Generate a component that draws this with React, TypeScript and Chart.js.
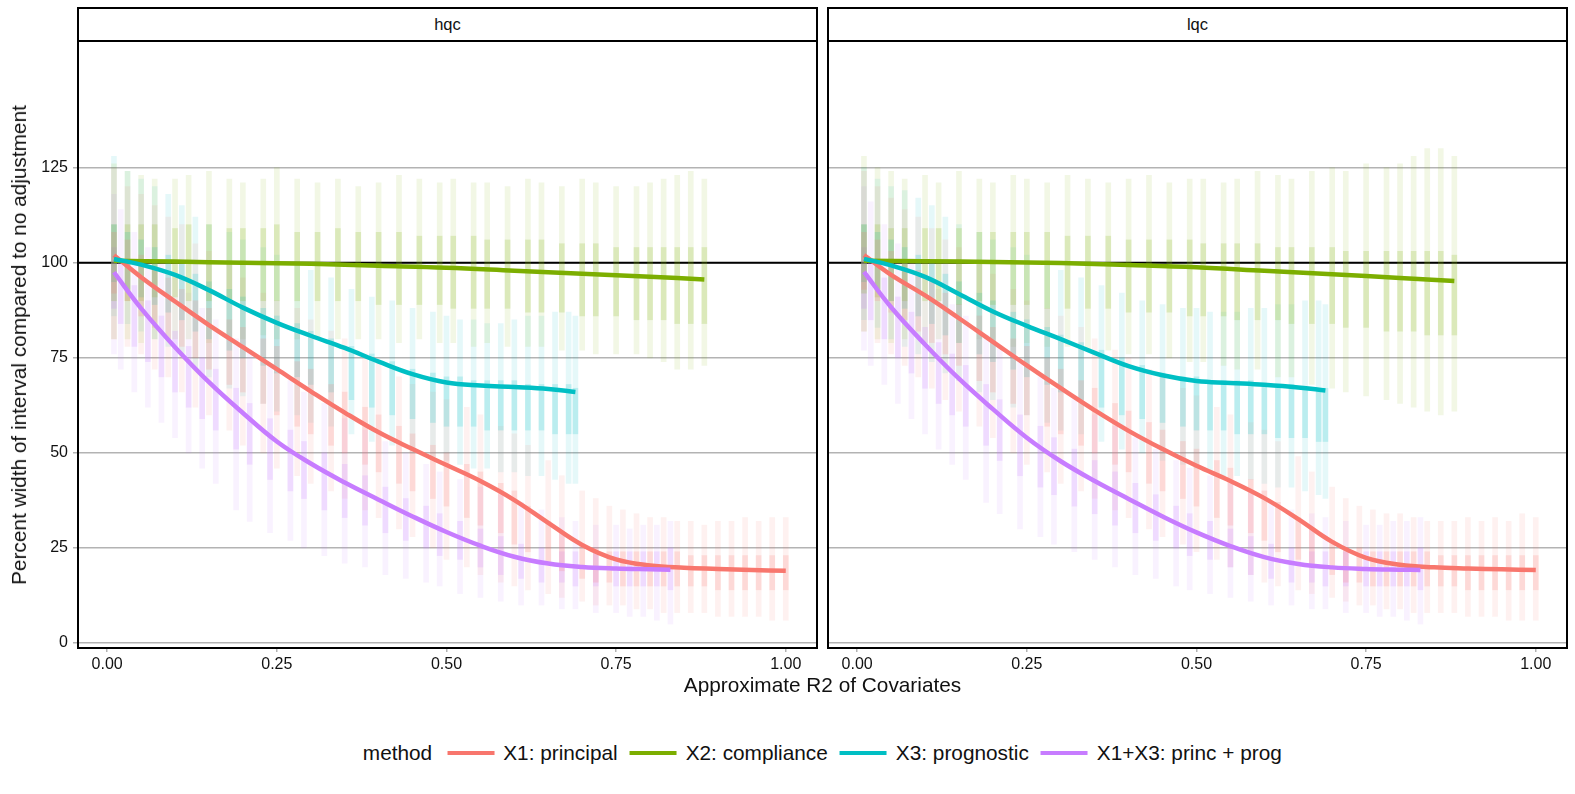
import React, { useEffect, useRef } from "react";
import { Chart, registerables } from "chart.js";

Chart.register(...registerables);

const FONT = "'Liberation Sans', Arial, Helvetica, sans-serif";

// ---------- labels ----------
const PANELS = ["hqc", "lqc"];
const METHODS = ["X1: principal", "X2: compliance", "X3: prognostic", "X1+X3: princ + prog"];
const COLORS = ["#F8766D", "#7CAE00", "#00BFC4", "#C77CFF"];
const LEGEND_TITLE = "method";
const X_TITLE = "Approximate R2 of Covariates";
const Y_TITLE = "Percent width of interval compared to no adjustment";
const Y_TICKS = [0, 25, 50, 75, 100, 125];
const X_TICKS = [0, 0.25, 0.5, 0.75, 1];
const REF_LINE = 100;
const X_RANGE = [-0.043, 1.046];
const Y_RANGE = [-1.3, 158.3];

// ---------- smoothed lines (x, y) ----------
const HQC_X1_SX = [0.01, 0.05, 0.1, 0.15, 0.2, 0.25, 0.3, 0.35, 0.4, 0.45, 0.5, 0.55, 0.6, 0.65, 0.7, 0.75, 0.8, 0.85, 0.9, 0.95, 1.0];
const HQC_X1_SY = [102, 96.2, 89.8, 83.6, 77.8, 72, 66.2, 60.6, 55.4, 51, 46.8, 42.6, 37.6, 31.6, 25.8, 22, 20.4, 19.8, 19.5, 19.2, 19];
const HQC_X2_SX = [0.01, 0.1, 0.2, 0.3, 0.4, 0.5, 0.6, 0.7, 0.8, 0.88];
const HQC_X2_SY = [100.5, 100.3, 100, 99.7, 99.2, 98.7, 97.9, 97.1, 96.3, 95.6];
const HQC_X3_SX = [0.01, 0.05, 0.1, 0.15, 0.2, 0.25, 0.3, 0.35, 0.4, 0.45, 0.5, 0.55, 0.6, 0.65, 0.69];
const HQC_X3_SY = [101, 99.5, 96.8, 92.8, 88.2, 84.2, 80.8, 77.6, 74, 70.7, 68.5, 67.7, 67.3, 66.8, 66];
const HQC_X13_SX = [0.01, 0.05, 0.1, 0.15, 0.2, 0.25, 0.3, 0.35, 0.4, 0.45, 0.5, 0.55, 0.6, 0.65, 0.7, 0.75, 0.8, 0.83];
const HQC_X13_SY = [97.5, 88, 77.8, 68.6, 60.5, 53, 47.2, 42.2, 37.7, 33.3, 29.2, 25.6, 22.7, 20.9, 20, 19.6, 19.4, 19.3];

const LQC_X1_SX = [0.01, 0.05, 0.1, 0.15, 0.2, 0.25, 0.3, 0.35, 0.4, 0.45, 0.5, 0.55, 0.6, 0.65, 0.7, 0.75, 0.8, 0.85, 0.9, 0.95, 1.0];
const LQC_X1_SY = [102, 96.8, 91.4, 85.4, 79.2, 73, 67, 61.2, 55.8, 51, 46.6, 42.6, 38.1, 32.6, 26.6, 22.4, 20.6, 19.9, 19.6, 19.4, 19.2];
const LQC_X2_SX = [0.01, 0.1, 0.2, 0.3, 0.4, 0.5, 0.6, 0.7, 0.8, 0.88];
const LQC_X2_SY = [100.5, 100.4, 100.2, 99.9, 99.4, 98.8, 97.9, 97, 96, 95.2];
const LQC_X3_SX = [0.01, 0.05, 0.1, 0.15, 0.2, 0.25, 0.3, 0.35, 0.4, 0.45, 0.5, 0.55, 0.6, 0.65, 0.69];
const LQC_X3_SY = [101, 99.3, 96.3, 91.8, 87.2, 83.4, 79.9, 76.3, 72.8, 70.4, 68.9, 68.4, 67.9, 67.2, 66.4];
const LQC_X13_SX = [0.01, 0.05, 0.1, 0.15, 0.2, 0.25, 0.3, 0.35, 0.4, 0.45, 0.5, 0.55, 0.6, 0.65, 0.7, 0.75, 0.8, 0.83];
const LQC_X13_SY = [97.6, 88.3, 78.5, 69.5, 61.5, 54, 47.8, 42.6, 37.9, 33.3, 29.1, 25.5, 22.6, 20.8, 19.9, 19.5, 19.3, 19.2];

// ---------- point columns: [x, low, core low, core high, high] ----------
const HQC_X1_COLS = [
  [0.01, 80, 92, 108, 125], [0.03, 78, 90, 106, 120], [0.05, 76, 86, 102, 118], [0.07, 72, 83, 99, 115],
  [0.09, 70, 80, 96, 112], [0.11, 66, 78, 93, 110], [0.13, 62, 75, 90, 105], [0.15, 60, 72, 88, 103],
  [0.18, 56, 68, 85, 100], [0.2, 52, 66, 83, 96], [0.23, 50, 63, 80, 92], [0.25, 46, 60, 78, 90],
  [0.28, 44, 57, 74, 88], [0.3, 42, 55, 72, 85], [0.33, 40, 52, 68, 82], [0.35, 38, 50, 66, 80],
  [0.38, 35, 47, 62, 76], [0.4, 33, 45, 60, 74], [0.43, 30, 42, 57, 70], [0.45, 28, 40, 55, 68],
  [0.48, 25, 38, 52, 66], [0.5, 22, 36, 50, 64], [0.53, 20, 33, 47, 62], [0.55, 18, 31, 45, 60],
  [0.58, 16, 29, 42, 57], [0.6, 15, 26, 40, 55], [0.62, 14, 24, 36, 52], [0.65, 13, 21, 32, 48],
  [0.67, 12, 19, 29, 44], [0.7, 11, 17, 26, 40], [0.72, 10, 16, 25, 38], [0.74, 10, 16, 24, 36],
  [0.76, 10, 15, 24, 35], [0.78, 9, 15, 24, 34], [0.8, 9, 15, 24, 33], [0.82, 8, 15, 24, 33],
  [0.84, 8, 15, 24, 32], [0.86, 8, 15, 23, 32], [0.88, 8, 15, 23, 31], [0.9, 7, 14, 23, 32],
  [0.92, 7, 14, 23, 32], [0.94, 7, 14, 23, 33], [0.96, 7, 14, 23, 32], [0.98, 6, 14, 23, 33],
  [1.0, 6, 14, 23, 33],
];
const HQC_X2_COLS = [
  [0.01, 80, 90, 110, 126], [0.03, 80, 90, 110, 124], [0.05, 79, 90, 110, 123], [0.07, 80, 91, 110, 122],
  [0.1, 80, 91, 109, 122], [0.12, 80, 90, 110, 123], [0.15, 79, 90, 110, 124], [0.18, 80, 90, 109, 122],
  [0.2, 80, 90, 109, 121], [0.23, 81, 90, 109, 122], [0.25, 80, 90, 110, 125], [0.28, 80, 90, 108, 122],
  [0.31, 80, 90, 108, 121], [0.34, 80, 90, 109, 122], [0.37, 80, 90, 108, 120], [0.4, 80, 89, 108, 121],
  [0.43, 79, 89, 108, 123], [0.46, 80, 89, 107, 122], [0.49, 79, 89, 107, 121], [0.51, 79, 88, 107, 122],
  [0.54, 78, 88, 107, 121], [0.56, 79, 88, 106, 121], [0.59, 78, 88, 106, 120], [0.62, 78, 87, 106, 122],
  [0.64, 78, 87, 106, 121], [0.67, 77, 87, 105, 120], [0.7, 77, 86, 105, 122], [0.72, 76, 86, 105, 121],
  [0.75, 76, 86, 104, 120], [0.78, 76, 85, 104, 120], [0.8, 75, 85, 104, 121], [0.82, 74, 85, 104, 122],
  [0.84, 72, 84, 104, 123], [0.86, 72, 84, 104, 124], [0.88, 73, 84, 104, 122],
];
const HQC_X3_COLS = [
  [0.01, 86, 95, 110, 128], [0.03, 84, 93, 108, 124], [0.05, 82, 91, 106, 122], [0.07, 80, 89, 104, 120],
  [0.09, 78, 87, 102, 118], [0.11, 76, 85, 100, 115], [0.13, 72, 82, 97, 112], [0.15, 70, 80, 95, 110],
  [0.18, 67, 77, 93, 108], [0.2, 65, 75, 91, 106], [0.23, 63, 73, 88, 104], [0.25, 61, 71, 86, 102],
  [0.28, 60, 70, 84, 100], [0.3, 58, 68, 82, 98], [0.33, 57, 66, 80, 96], [0.36, 55, 64, 78, 93],
  [0.39, 53, 62, 76, 91], [0.42, 52, 60, 74, 90], [0.45, 50, 59, 72, 88], [0.48, 49, 58, 71, 87],
  [0.5, 48, 57, 70, 86], [0.52, 47, 57, 70, 85], [0.54, 46, 57, 69, 85], [0.56, 46, 56, 69, 84],
  [0.58, 45, 56, 69, 84], [0.6, 45, 56, 69, 85], [0.62, 44, 56, 68, 86], [0.64, 44, 56, 68, 86],
  [0.66, 43, 55, 68, 87], [0.68, 42, 55, 68, 87], [0.69, 42, 55, 67, 86],
];
const HQC_X13_COLS = [
  [0.01, 76, 88, 104, 118], [0.02, 72, 84, 100, 114], [0.04, 66, 78, 94, 108], [0.06, 62, 74, 90, 104],
  [0.08, 58, 70, 86, 100], [0.1, 54, 66, 82, 96], [0.12, 50, 62, 78, 92], [0.14, 46, 59, 75, 88],
  [0.16, 42, 56, 72, 85], [0.19, 35, 51, 67, 80], [0.21, 32, 47, 63, 77], [0.24, 29, 43, 59, 73],
  [0.27, 27, 40, 56, 69], [0.29, 25, 38, 53, 66], [0.32, 23, 35, 50, 63], [0.35, 21, 33, 47, 59],
  [0.38, 20, 31, 44, 56], [0.41, 18, 29, 41, 53], [0.44, 17, 27, 38, 50], [0.47, 16, 25, 36, 47],
  [0.49, 15, 23, 34, 45], [0.52, 13, 22, 32, 43], [0.55, 12, 20, 30, 41], [0.58, 11, 18, 28, 39],
  [0.61, 10, 17, 26, 37], [0.64, 10, 16, 25, 35], [0.67, 9, 16, 24, 33], [0.69, 9, 15, 24, 32],
  [0.72, 8, 15, 24, 31], [0.75, 8, 15, 24, 31], [0.77, 7, 15, 24, 30], [0.79, 7, 15, 24, 31],
  [0.81, 6, 15, 24, 31], [0.83, 5, 14, 25, 32],
];

const LQC_X1_COLS = [
  [0.01, 82, 93, 108, 124], [0.03, 79, 90, 106, 120], [0.05, 76, 87, 103, 117], [0.07, 73, 85, 100, 114],
  [0.09, 70, 82, 98, 112], [0.11, 67, 79, 95, 109], [0.13, 64, 76, 92, 106], [0.15, 61, 73, 89, 104],
  [0.18, 57, 69, 86, 100], [0.2, 54, 66, 83, 97], [0.23, 50, 63, 80, 93], [0.25, 47, 60, 78, 90],
  [0.28, 45, 57, 75, 88], [0.3, 42, 55, 72, 86], [0.33, 40, 52, 69, 83], [0.35, 38, 50, 67, 80],
  [0.38, 35, 47, 63, 77], [0.4, 33, 45, 61, 75], [0.43, 30, 42, 58, 72], [0.45, 28, 40, 56, 70],
  [0.48, 26, 38, 53, 67], [0.5, 24, 36, 51, 65], [0.53, 22, 33, 48, 62], [0.55, 20, 31, 46, 60],
  [0.58, 18, 29, 43, 58], [0.6, 16, 27, 40, 56], [0.62, 15, 24, 37, 53], [0.65, 14, 22, 33, 49],
  [0.67, 13, 20, 30, 45], [0.7, 12, 18, 27, 41], [0.72, 11, 16, 25, 38], [0.74, 10, 16, 25, 36],
  [0.76, 10, 15, 24, 35], [0.78, 9, 15, 24, 34], [0.8, 9, 15, 24, 34], [0.82, 8, 15, 24, 33],
  [0.84, 8, 15, 24, 32], [0.86, 8, 15, 23, 32], [0.88, 8, 15, 23, 32], [0.9, 7, 14, 23, 33],
  [0.92, 7, 14, 23, 32], [0.94, 7, 14, 23, 33], [0.96, 6, 14, 23, 32], [0.98, 6, 14, 23, 34],
  [1.0, 6, 14, 23, 33],
];
const LQC_X2_COLS = [
  [0.01, 82, 92, 110, 128], [0.03, 80, 91, 110, 125], [0.05, 79, 90, 109, 124], [0.07, 80, 90, 109, 122],
  [0.1, 79, 90, 109, 123], [0.12, 80, 90, 109, 121], [0.15, 79, 89, 109, 124], [0.18, 80, 90, 108, 122],
  [0.2, 79, 89, 108, 121], [0.23, 78, 89, 108, 123], [0.25, 79, 89, 108, 122], [0.28, 78, 88, 108, 121],
  [0.31, 78, 88, 107, 123], [0.34, 77, 88, 107, 122], [0.37, 77, 88, 107, 121], [0.4, 76, 87, 106, 122],
  [0.43, 76, 87, 106, 123], [0.46, 75, 87, 106, 121], [0.49, 74, 86, 106, 122], [0.51, 74, 86, 105, 122],
  [0.54, 73, 86, 105, 121], [0.56, 72, 85, 105, 122], [0.59, 72, 85, 105, 124], [0.62, 70, 85, 104, 123],
  [0.64, 70, 84, 104, 122], [0.67, 68, 84, 104, 124], [0.7, 67, 84, 104, 125], [0.72, 66, 83, 103, 124],
  [0.75, 65, 83, 103, 126], [0.78, 64, 82, 103, 125], [0.8, 63, 82, 103, 126], [0.82, 62, 82, 103, 128],
  [0.84, 61, 81, 103, 130], [0.86, 60, 81, 103, 130], [0.88, 61, 81, 102, 128],
];
const LQC_X3_COLS = [
  [0.01, 85, 95, 110, 125], [0.03, 83, 93, 108, 122], [0.05, 80, 90, 106, 120], [0.07, 78, 88, 104, 119],
  [0.09, 76, 86, 102, 117], [0.11, 74, 84, 100, 115], [0.13, 71, 81, 97, 112], [0.15, 69, 79, 95, 110],
  [0.18, 66, 76, 92, 108], [0.2, 64, 74, 90, 106], [0.23, 62, 72, 87, 104], [0.25, 60, 70, 85, 102],
  [0.28, 58, 68, 83, 100], [0.3, 56, 66, 81, 98], [0.33, 55, 64, 79, 96], [0.36, 53, 62, 77, 94],
  [0.39, 51, 60, 75, 92], [0.42, 50, 59, 73, 90], [0.45, 48, 58, 71, 89], [0.48, 47, 57, 70, 88],
  [0.5, 46, 56, 70, 88], [0.52, 45, 56, 69, 87], [0.54, 44, 56, 69, 87], [0.56, 44, 55, 69, 87],
  [0.58, 43, 55, 69, 88], [0.6, 42, 55, 68, 88], [0.62, 41, 54, 68, 89], [0.64, 41, 54, 68, 89],
  [0.66, 40, 54, 67, 90], [0.68, 39, 53, 67, 90], [0.69, 38, 53, 67, 89],
];
const LQC_X13_COLS = [
  [0.01, 77, 88, 104, 120], [0.02, 73, 85, 101, 116], [0.04, 68, 80, 96, 110], [0.06, 63, 75, 91, 105],
  [0.08, 59, 71, 87, 101], [0.1, 55, 67, 83, 97], [0.12, 51, 63, 79, 93], [0.14, 47, 60, 76, 89],
  [0.16, 43, 57, 73, 86], [0.19, 37, 52, 68, 81], [0.21, 34, 48, 64, 78], [0.24, 30, 44, 60, 74],
  [0.27, 28, 41, 57, 70], [0.29, 26, 39, 54, 67], [0.32, 24, 36, 51, 64], [0.35, 22, 34, 48, 60],
  [0.38, 20, 31, 45, 57], [0.41, 18, 29, 42, 54], [0.44, 17, 27, 39, 51], [0.47, 15, 25, 36, 48],
  [0.49, 14, 23, 34, 46], [0.52, 13, 22, 32, 44], [0.55, 12, 20, 30, 42], [0.58, 11, 18, 28, 40],
  [0.61, 10, 17, 26, 37], [0.64, 10, 16, 25, 35], [0.67, 9, 16, 24, 34], [0.69, 9, 15, 24, 33],
  [0.72, 8, 15, 24, 32], [0.75, 8, 15, 24, 31], [0.77, 7, 15, 24, 31], [0.79, 7, 15, 24, 32],
  [0.81, 6, 15, 24, 32], [0.83, 5, 14, 25, 33],
];

const SMOOTH = [
  [[HQC_X1_SX, HQC_X1_SY], [HQC_X2_SX, HQC_X2_SY], [HQC_X3_SX, HQC_X3_SY], [HQC_X13_SX, HQC_X13_SY]],
  [[LQC_X1_SX, LQC_X1_SY], [LQC_X2_SX, LQC_X2_SY], [LQC_X3_SX, LQC_X3_SY], [LQC_X13_SX, LQC_X13_SY]],
];
const COLS = [
  [HQC_X1_COLS, HQC_X2_COLS, HQC_X3_COLS, HQC_X13_COLS],
  [LQC_X1_COLS, LQC_X2_COLS, LQC_X3_COLS, LQC_X13_COLS],
];

function rgba(hex: string, a: number) {
  const n = parseInt(hex.slice(1), 16);
  return `rgba(${(n >> 16) & 255},${(n >> 8) & 255},${n & 255},${a})`;
}

const GRID = "#b3b3b3";
const TEXT = "#111111";

function makeChart(canvas: HTMLCanvasElement, p: number) {
  const isLeft = p === 0;
  const datasets: any[] = [];
  for (let m = 0; m < 4; m++) {
    const cols = COLS[p][m];
    datasets.push({
      type: "bar",
      data: cols.map((c) => ({ x: c[0], y: [c[1], c[4]] })),
      backgroundColor: rgba(COLORS[m], 0.1),
      borderWidth: 0,
      barThickness: 5,
      grouped: false,
      order: 30 + m,
    });
    datasets.push({
      type: "bar",
      data: cols.map((c) => ({ x: c[0], y: [c[2], c[3]] })),
      backgroundColor: rgba(COLORS[m], 0.19),
      borderWidth: 0,
      barThickness: 5,
      grouped: false,
      order: 20 + m,
    });
  }
  for (let m = 0; m < 4; m++) {
    const [xs, ys] = SMOOTH[p][m];
    datasets.push({
      type: "line",
      data: xs.map((x, i) => ({ x, y: ys[i] })),
      borderColor: COLORS[m],
      borderWidth: 4.5,
      pointRadius: 0,
      fill: false,
      tension: 0.4,
      borderCapStyle: "butt",
      order: 3 - m,
    });
  }

  const panelPlugin = {
    id: "panelDeco",
    beforeDatasetsDraw(chart: any) {
      const { ctx, chartArea, scales } = chart;
      const py = scales.y.getPixelForValue(REF_LINE);
      ctx.save();
      ctx.strokeStyle = "#000";
      ctx.lineWidth = 2;
      ctx.beginPath();
      ctx.moveTo(chartArea.left, py);
      ctx.lineTo(chartArea.right, py);
      ctx.stroke();
      ctx.restore();
    },
    afterDraw(chart: any) {
      const { ctx, chartArea } = chart;
      ctx.save();
      ctx.strokeStyle = "#000";
      ctx.lineWidth = 2;
      ctx.strokeRect(chartArea.left, chartArea.top, chartArea.right - chartArea.left, chartArea.bottom - chartArea.top);
      ctx.restore();
    },
  };

  return new Chart(canvas, {
    type: "bar",
    data: { datasets },
    plugins: [panelPlugin],
    options: {
      responsive: false,
      animation: false,
      events: [],
      layout: { padding: { left: 0, top: 41, right: isLeft ? 5 : 8, bottom: 0 } },
      plugins: { legend: { display: false }, tooltip: { enabled: false } },
      scales: {
        x: {
          type: "linear",
          min: X_RANGE[0],
          max: X_RANGE[1],
          offset: false,
          afterBuildTicks: (a: any) => {
            a.ticks = X_TICKS.map((v) => ({ value: v }));
          },
          afterFit: (s: any) => {
            s.height = 52;
          },
          ticks: {
            callback: (v: any) => Number(v).toFixed(2),
            font: { family: FONT, size: 16 },
            color: TEXT,
            padding: 3,
            maxRotation: 0,
            autoSkip: false,
          },
          grid: { drawOnChartArea: false, drawTicks: true, tickLength: 4, color: GRID, lineWidth: 1.5, offset: false },
          border: { display: false },
        },
        y: {
          type: "linear",
          min: Y_RANGE[0],
          max: Y_RANGE[1],
          afterBuildTicks: (a: any) => {
            a.ticks = Y_TICKS.map((v) => ({ value: v }));
          },
          afterFit: (s: any) => {
            s.width = isLeft ? 78 : 6;
          },
          ticks: {
            display: isLeft,
            callback: (v: any) => String(v),
            font: { family: FONT, size: 16 },
            color: TEXT,
            padding: 5,
          },
          grid: { color: GRID, lineWidth: 1.5, drawTicks: isLeft, tickLength: 5 },
          border: { display: false },
        },
      },
    } as any,
  });
}

export default function App() {
  const leftRef = useRef<HTMLCanvasElement>(null);
  const rightRef = useRef<HTMLCanvasElement>(null);

  useEffect(() => {
    const c1 = makeChart(leftRef.current!, 0);
    const c2 = makeChart(rightRef.current!, 1);
    return () => {
      c1.destroy();
      c2.destroy();
    };
  }, []);

  const txt: React.CSSProperties = { fontFamily: FONT, color: TEXT, whiteSpace: "nowrap" };

  const strip = (left: number, label: string) => (
    <div
      style={{
        position: "absolute",
        left,
        top: 7,
        width: 741,
        height: 35,
        border: "2px solid #000",
        boxSizing: "border-box",
        background: "#fff",
        display: "flex",
        alignItems: "center",
        justifyContent: "center",
        fontSize: 16.5,
        ...txt,
      }}
    >
      {label}
    </div>
  );

  return (
    <div style={{ position: "fixed", left: 0, top: 0, width: 1575, height: 794, background: "#fff", overflow: "hidden" }}>
      <canvas ref={leftRef} width={822} height={700} style={{ position: "absolute", left: 0, top: 0, width: 822, height: 700 }} />
      <canvas ref={rightRef} width={753} height={700} style={{ position: "absolute", left: 822, top: 0, width: 753, height: 700 }} />
      {strip(77, PANELS[0])}
      {strip(827, PANELS[1])}
      <div
        style={{
          position: "absolute",
          left: 19,
          top: 344.5,
          transform: "translate(-50%, -50%) rotate(-90deg)",
          fontSize: 20.8,
          ...txt,
        }}
      >
        {Y_TITLE}
      </div>
      <div style={{ position: "absolute", left: 822.5, top: 685, transform: "translate(-50%, -50%)", fontSize: 20.8, ...txt }}>
        {X_TITLE}
      </div>
      <div
        style={{
          position: "absolute",
          left: 822.3,
          top: 753,
          transform: "translate(-50%, -50%)",
          display: "flex",
          alignItems: "center",
          fontSize: 20.8,
          ...txt,
        }}
      >
        <span style={{ marginRight: 15 }}>{LEGEND_TITLE}</span>
        {METHODS.map((m, i) => (
          <span key={m} style={{ display: "flex", alignItems: "center", marginRight: i < METHODS.length - 1 ? 12 : 0 }}>
            <span style={{ display: "inline-block", width: 47, height: 4.5, background: COLORS[i], marginRight: 9 }} />
            <span>{m}</span>
          </span>
        ))}
      </div>
    </div>
  );
}
